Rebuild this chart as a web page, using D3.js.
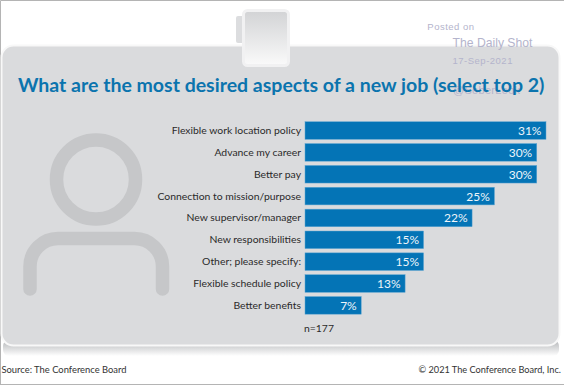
<!DOCTYPE html>
<html lang="en">
<head>
    <meta charset="UTF-8">
    <title>Most desired aspects of a new job</title>
    <style>
        body, html {
            margin: 0;
            padding: 0;
            background-color: #fff;
        }

        svg {
            display: block;
        }

        text {
            font-family: Lato, "Noto Sans", sans-serif;
        }

        .mark {
            font-family: "Liberation Sans", sans-serif;
            fill: #b4b4cc;
        }
    </style>
</head>
<body>
    <div id="chart"></div>

    <script src="https://d3js.org/d3.v7.min.js"></script>
    <script>
        const categories = [
            "Flexible work location policy",
            "Advance my career",
            "Better pay",
            "Connection to mission/purpose",
            "New supervisor/manager",
            "New responsibilities",
            "Other; please specify:",
            "Flexible schedule policy",
            "Better benefits"
        ];
        // the labels round these
        const values = [31.3, 30.1, 30.1, 24.6, 21.7, 15.4, 15.4, 13.0, 7.3];

        const title = "What are the most desired aspects of a new job (select top 2)";
        const note = "n=177";
        const source = "Source: The Conference Board";
        const copyright = "© 2021 The Conference Board, Inc.";

        const width = 564;
        const height = 385;

        const svg = d3.select("#chart")
            .append("svg")
            .attr("width", width)
            .attr("height", height);

        const defs = svg.append("defs");

        const shadow = defs.append("linearGradient")
            .attr("id", "shadow")
            .attr("x1", 0).attr("x2", 0).attr("y1", 0).attr("y2", 1);
        shadow.append("stop").attr("offset", "0%").attr("stop-color", "#b3b5b7");
        shadow.append("stop").attr("offset", "100%").attr("stop-color", "#fff");

        const clipFill = defs.append("linearGradient")
            .attr("id", "clipFill")
            .attr("x1", 0).attr("x2", 0).attr("y1", 0).attr("y2", 1);
        clipFill.append("stop").attr("offset", "0%").attr("stop-color", "#d2d3d5");
        clipFill.append("stop").attr("offset", "100%").attr("stop-color", "#fafafa");

        // Outer frame
        svg.append("path")
            .attr("d", "M0.5,385V0.5H564")
            .attr("fill", "none")
            .attr("stroke", "#b4b4b4");
        svg.append("line")
            .attr("x1", 0).attr("x2", width)
            .attr("y1", 384.5).attr("y2", 384.5)
            .attr("stroke", "#b4b4b4");

        // Panel with its shadow
        svg.append("rect")
            .attr("x", 3).attr("y", 340)
            .attr("width", 556).attr("height", 16)
            .attr("rx", 6)
            .attr("fill", "url(#shadow)");
        svg.append("rect")
            .attr("x", 1.5).attr("y", 45.5)
            .attr("width", 558).attr("height", 300)
            .attr("rx", 12)
            .attr("fill", "#dadbdd")
            .attr("stroke", "#f8f8f8")
            .attr("stroke-width", 2);

        // Clipboard clip
        svg.append("rect")
            .attr("x", 236).attr("y", 16)
            .attr("width", 8).attr("height", 27)
            .attr("rx", 2)
            .attr("fill", "#dcdddf");
        svg.append("rect")
            .attr("x", 243.5).attr("y", 10.5)
            .attr("width", 45).attr("height", 55)
            .attr("rx", 4)
            .attr("fill", "url(#clipFill)")
            .attr("stroke", "#f1f1f2")
            .attr("stroke-width", 3);

        // Person icon
        const icon = svg.append("g")
            .attr("fill", "none")
            .attr("stroke", "#c6c7c9")
            .attr("stroke-width", 13.5)
            .attr("stroke-linecap", "round");
        icon.append("circle")
            .attr("cx", 96).attr("cy", 179.5).attr("r", 39.5);
        icon.append("path")
            .attr("d", "M30,289V266.5A28,28 0 0 1 58,238.5H134.5A28,28 0 0 1 162.5,266.5V289");

        // Watermark, the handle sits behind the title
        function addMark(text, x, y, size, spacing) {
            svg.append("text")
                .attr("class", "mark")
                .attr("x", x)
                .attr("y", y)
                .attr("font-size", size)
                .attr("letter-spacing", spacing)
                .text(text);
        }
        addMark("Posted on", 427.3, 30, 9.5, 0.5);
        addMark("The Daily Shot", 452.5, 47, 12.2, 0);
        addMark("17-Sep-2021", 452.5, 64, 9.5, 0.5);
        addMark("@SoberLook", 453, 94, 11, 0.3);

        // Title
        svg.append("text")
            .attr("x", 18)
            .attr("y", 92)
            .attr("font-size", 19.5)
            .attr("font-weight", 700)
            .attr("fill", "#0b74ae")
            .text(title);

        // Bars
        const x = d3.scaleLinear()
            .domain([0, 31.3])
            .range([305, 546]);

        const y = d3.scaleBand()
            .domain(categories)
            .range([119.6, 316.3])
            .paddingInner(0.195)
            .paddingOuter(0.0975);

        svg.append("g")
            .selectAll("rect")
            .data(values)
            .join("rect")
            .attr("x", x(0))
            .attr("y", (d, i) => y(categories[i]))
            .attr("width", d => x(d) - x(0))
            .attr("height", y.bandwidth())
            .attr("fill", "#0474b6")
            .attr("stroke", "#5ea6d2")
            .attr("stroke-width", 0.5);

        // Value labels
        svg.append("g")
            .selectAll("text")
            .data(values)
            .join("text")
            .attr("x", d => x(d) - 4.5)
            .attr("y", (d, i) => y(categories[i]) + y.bandwidth() / 2 + 4.5)
            .attr("text-anchor", "end")
            .attr("font-size", 12)
            .attr("fill", "#eef5fa")
            .text(d => d3.format(".0f")(d) + "%");

        // Category labels
        svg.append("g")
            .selectAll("text")
            .data(categories)
            .join("text")
            .attr("x", 301)
            .attr("y", d => y(d) + y.bandwidth() / 2 + 3.5)
            .attr("text-anchor", "end")
            .attr("font-size", 10.4)
            .attr("fill", "#2a2a2a")
            .text(d => d);

        svg.append("text")
            .attr("x", 304)
            .attr("y", 332)
            .attr("font-size", 10.4)
            .attr("fill", "#2a2a2a")
            .text(note);

        // Footer
        svg.append("text")
            .attr("x", 1.5)
            .attr("y", 372.5)
            .attr("font-size", 9.4)
            .attr("fill", "#333")
            .text(source);
        svg.append("text")
            .attr("x", 561)
            .attr("y", 372.5)
            .attr("text-anchor", "end")
            .attr("font-size", 9.2)
            .attr("fill", "#333")
            .text(copyright);
    </script>
</body>
</html>
